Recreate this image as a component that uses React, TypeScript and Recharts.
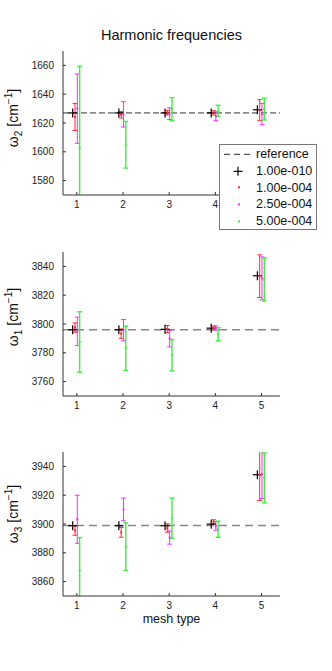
import React from "react";
import { ScatterChart, Scatter, XAxis, YAxis, ErrorBar, ReferenceLine } from "recharts";

// Harmonic frequencies per mesh type, one panel per mode (omega_2, omega_1, omega_3).
// Four tolerance runs per mesh; the tightest one (1.00e-010) has no spread.

const meshTypes = [1, 2, 3, 4, 5];
const seriesLabels = ["1.00e-010", "1.00e-004", "2.50e-004", "5.00e-004"];
const xTicks = [1, 2, 3, 4, 5];

// omega_2
const w2Reference = 1627;
const w2Ticks = [1580, 1600, 1620, 1640, 1660];
const w2Tight = [1627, 1627, 1627, 1627, 1629.2];
const w2Red = [1624.2, 1625.7, 1627.2, 1627, 1628.9];
const w2RedErr = [9.4, 2.2, 1.6, 1.5, 7.3];
const w2Magenta = [1630, 1626, 1626.5, 1624.7, 1626.2];
const w2MagentaErr = [24.1, 8.8, 4.1, 3.1, 7.4];
const w2Green = [1602.8, 1604.9, 1629.6, 1628.4, 1629.7];
const w2GreenErr = [56.5, 16.2, 8, 3.9, 7.6];

// omega_1
const w1Reference = 3796;
const w1Ticks = [3760, 3780, 3800, 3820, 3840];
const w1Tight = [3796, 3796, 3796.3, 3797.1, 3833.5];
const w1Red = [3797.5, 3793.3, 3796.5, 3797.3, 3833.2];
const w1RedErr = [3.2, 3.2, 2.5, 1.3, 14.8];
const w1Magenta = [3794.9, 3795.7, 3789.9, 3797.2, 3831.7];
const w1MagentaErr = [9.9, 7.4, 5.8, 1.5, 14.9];
const w1Green = [3787.5, 3783.2, 3778.3, 3792.9, 3830.9];
const w1GreenErr = [21, 15.4, 10.9, 4.6, 15];

// omega_3
const w3Reference = 3899;
const w3Ticks = [3860, 3880, 3900, 3920, 3940];
const w3Tight = [3898.8, 3898.8, 3898.8, 3899.9, 3934.2];
const w3Red = [3895.5, 3894.2, 3897.2, 3901.5, 3934.2];
const w3RedErr = [3.3, 3.4, 2.9, 1.4, 17.9];
const w3Magenta = [3903.3, 3910.1, 3890.6, 3898.7, 3934.7];
const w3MagentaErr = [16.7, 7.9, 4.6, 3, 17];
const w3Green = [3867.6, 3884.3, 3904, 3896.4, 3932];
const w3GreenErr = [23, 16.5, 14, 5.6, 17.3];

const FONT = "'Liberation Sans', Arial, Helvetica, sans-serif";
const AXIS = "#333";
const X_DOMAIN: [number, number] = [0.7, 5.4];
const PLOT_LEFT = 63;
const PLOT_W = 217;
const PLOT_H = 144;

// colour + small horizontal shift so the runs don't sit on top of each other
const seriesStyle = [
  { color: "#000000", shift: -0.09 },
  { color: "#ff2a2a", shift: -0.04 },
  { color: "#ff2aff", shift: 0.01 },
  { color: "#3ef03e", shift: 0.06 },
];

function rows(values: number[], errs: number[] | null, shift: number) {
  return meshTypes.map((m, i) => ({ x: m + shift, y: values[i], err: errs ? errs[i] : 0 }));
}

function PlusShape(props: any) {
  const { cx, cy } = props;
  if (cx == null || cy == null) return <g />;
  return (
    <g stroke="#000" strokeWidth={1.2}>
      <line x1={cx - 4.5} y1={cy} x2={cx + 4.5} y2={cy} />
      <line x1={cx} y1={cy - 4.5} x2={cx} y2={cy + 4.5} />
    </g>
  );
}

function dotShape(color: string) {
  return (props: any) => {
    const { cx, cy } = props;
    if (cx == null || cy == null) return <g />;
    return <rect x={cx - 1} y={cy - 1} width={2} height={2} fill={color} />;
  };
}

// x tick label; the legend sits over tick "5" of the top panel, so that one is skipped
function xTick(hidden: number[]) {
  return (props: any) => {
    const { x, y, payload } = props;
    if (hidden.includes(payload.value)) return <g />;
    return (
      <text x={x} y={y} dy="0.71em" textAnchor="middle" fontSize={10} fill="#222" fontFamily={FONT}>
        {payload.value}
      </text>
    );
  };
}

function YLabel({ cx, cy, sub }: { cx: number; cy: number; sub: string }) {
  return (
    <text
      x={cx}
      y={cy}
      transform={`rotate(-90, ${cx}, ${cy})`}
      textAnchor="middle"
      fontFamily={FONT}
      fontSize={14}
      fill="#111"
    >
      ω
      <tspan dy={3.5} fontSize={10}>{sub}</tspan>
      <tspan dy={-3.5}> [cm</tspan>
      <tspan dy={-6} fontSize={10}>−1</tspan>
      <tspan dy={6}>]</tspan>
    </text>
  );
}

interface PanelProps {
  id: string;
  top: number;
  height: number;
  marginTop: number;
  xAxisHeight: number;
  domain: [number, number];
  yTicks: number[];
  reference: number;
  refStroke: string;
  refWidth: number;
  refDash: string;
  tight: number[];
  red: number[];
  redErr: number[];
  magenta: number[];
  magentaErr: number[];
  green: number[];
  greenErr: number[];
  sub: string;
  labelShift: number;
  hiddenXLabels?: number[];
  xLabel?: string;
}

function Panel(p: PanelProps) {
  const colored = [
    { vals: p.red, errs: p.redErr, st: seriesStyle[1], width: 1 },
    { vals: p.magenta, errs: p.magentaErr, st: seriesStyle[2], width: 1 },
    { vals: p.green, errs: p.greenErr, st: seriesStyle[3], width: 1.4 },
  ];
  const clipId = `clip-${p.id}`;
  return (
    <div className={`panel-${p.id}`} style={{ position: "absolute", left: 0, top: p.top }}>
      {/* error bars that run past the y-range get cut at the axes box */}
      <svg width={0} height={0} style={{ position: "absolute" }}>
        <defs>
          <clipPath id={clipId} clipPathUnits="userSpaceOnUse">
            <rect x={PLOT_LEFT} y={p.marginTop} width={PLOT_W} height={PLOT_H} />
          </clipPath>
        </defs>
      </svg>
      <style>{`.panel-${p.id} .recharts-errorBars, .panel-${p.id} .recharts-errorBar, .panel-${p.id} .recharts-scatter { clip-path: url(#${clipId}); }`}</style>
      <ScatterChart
        width={332}
        height={p.height}
        margin={{ top: p.marginTop, right: 52, bottom: 0, left: 0 }}
      >
        <XAxis
          type="number"
          dataKey="x"
          domain={X_DOMAIN}
          ticks={xTicks}
          allowDataOverflow
          height={p.xAxisHeight}
          tickSize={-3}
          tickMargin={9}
          tick={xTick(p.hiddenXLabels ?? [])}
          axisLine={{ stroke: AXIS }}
          tickLine={{ stroke: AXIS }}
          label={
            p.xLabel
              ? { value: p.xLabel, position: "insideBottom", offset: 13, fontSize: 12.5, fill: "#111", fontFamily: FONT }
              : undefined
          }
        />
        <XAxis
          xAxisId="top"
          orientation="top"
          type="number"
          domain={X_DOMAIN}
          ticks={xTicks}
          allowDataOverflow
          height={0}
          tickSize={-3}
          tick={false}
          axisLine={{ stroke: AXIS }}
          tickLine={{ stroke: AXIS }}
        />
        <YAxis
          type="number"
          dataKey="y"
          domain={p.domain}
          ticks={p.yTicks}
          allowDataOverflow
          width={PLOT_LEFT}
          tickSize={-3}
          tickMargin={12}
          tick={{ fontSize: 10, fill: "#222", fontFamily: FONT }}
          axisLine={{ stroke: AXIS }}
          tickLine={{ stroke: AXIS }}
          label={<YLabel cx={18} cy={p.marginTop + PLOT_H / 2 + p.labelShift} sub={p.sub} />}
        />
        <YAxis
          yAxisId="right"
          orientation="right"
          type="number"
          domain={p.domain}
          ticks={p.yTicks}
          allowDataOverflow
          width={0}
          tickSize={-3}
          tick={false}
          axisLine={{ stroke: AXIS }}
          tickLine={{ stroke: AXIS }}
        />
        <ReferenceLine
          y={p.reference}
          stroke={p.refStroke}
          strokeWidth={p.refWidth}
          strokeDasharray={p.refDash}
        />
        <Scatter
          name={seriesLabels[0]}
          data={rows(p.tight, null, seriesStyle[0].shift)}
          shape={PlusShape}
          isAnimationActive={false}
        />
        {colored.map((s, k) => (
          <Scatter
            key={k}
            name={seriesLabels[k + 1]}
            data={rows(s.vals, s.errs, s.st.shift)}
            shape={dotShape(s.st.color)}
            isAnimationActive={false}
          >
            <ErrorBar
              dataKey="err"
              direction="y"
              width={2.5}
              stroke={s.st.color}
              strokeWidth={s.width}
              clipPath={`url(#${clipId})`}
              isAnimationActive={false}
            />
          </Scatter>
        ))}
      </ScatterChart>
    </div>
  );
}

function LegendBox() {
  const rowH = 16.7;
  const swatch = (k: number) => {
    if (k === 0) {
      return <line x1={0} y1={rowH / 2} x2={28} y2={rowH / 2} stroke="#555" strokeWidth={1.2} strokeDasharray="6 4" />;
    }
    if (k === 1) {
      return (
        <g stroke="#000" strokeWidth={1.2}>
          <line x1={9.5} y1={rowH / 2} x2={18.5} y2={rowH / 2} />
          <line x1={14} y1={rowH / 2 - 4.5} x2={14} y2={rowH / 2 + 4.5} />
        </g>
      );
    }
    return <rect x={14} y={rowH / 2 - 1} width={2} height={2} fill={seriesStyle[k - 1].color} />;
  };
  const labels = ["reference", ...seriesLabels];
  return (
    <div
      style={{
        position: "absolute",
        left: 219,
        top: 144,
        width: 98,
        height: 86,
        border: "1px solid #777",
        background: "#fff",
        fontFamily: FONT,
        fontSize: 12.5,
        color: "#111",
        paddingTop: 1,
        boxSizing: "border-box",
      }}
    >
      {labels.map((lab, k) => (
        <div key={lab} style={{ display: "flex", alignItems: "center", height: rowH }}>
          <svg width={32} height={rowH} style={{ marginLeft: 4, flex: "none" }}>
            {swatch(k)}
          </svg>
          <span style={{ lineHeight: "14px", whiteSpace: "nowrap" }}>{lab}</span>
        </div>
      ))}
    </div>
  );
}

export default function App() {
  return (
    <div style={{ position: "absolute", left: 0, top: 0, width: 332, height: 671, background: "#fff" }}>
      <div
        style={{
          position: "absolute",
          left: PLOT_LEFT,
          top: 26,
          width: PLOT_W,
          height: 18,
          lineHeight: "18px",
          textAlign: "center",
          fontFamily: FONT,
          fontSize: 14.5,
          color: "#111",
        }}
      >
        Harmonic frequencies
      </div>
      <Panel
        id="w2"
        top={0}
        height={215}
        marginTop={51}
        xAxisHeight={20}
        domain={[1570, 1670]}
        yTicks={w2Ticks}
        reference={w2Reference}
        refStroke="#333"
        refWidth={1}
        refDash="6 3"
        tight={w2Tight}
        red={w2Red}
        redErr={w2RedErr}
        magenta={w2Magenta}
        magentaErr={w2MagentaErr}
        green={w2Green}
        greenErr={w2GreenErr}
        sub="2"
        labelShift={-5}
        hiddenXLabels={[5]}
      />
      <Panel
        id="w1"
        top={230}
        height={186}
        marginTop={22}
        xAxisHeight={20}
        domain={[3750, 3850]}
        yTicks={w1Ticks}
        reference={w1Reference}
        refStroke="#888"
        refWidth={1.6}
        refDash="8 5"
        tight={w1Tight}
        red={w1Red}
        redErr={w1RedErr}
        magenta={w1Magenta}
        magentaErr={w1MagentaErr}
        green={w1Green}
        greenErr={w1GreenErr}
        sub="1"
        labelShift={-7}
      />
      <Panel
        id="w3"
        top={430}
        height={206}
        marginTop={22}
        xAxisHeight={40}
        domain={[3850, 3950]}
        yTicks={w3Ticks}
        reference={w3Reference}
        refStroke="#888"
        refWidth={1.6}
        refDash="8 5"
        tight={w3Tight}
        red={w3Red}
        redErr={w3RedErr}
        magenta={w3Magenta}
        magentaErr={w3MagentaErr}
        green={w3Green}
        greenErr={w3GreenErr}
        sub="3"
        labelShift={-10}
        xLabel="mesh type"
      />
      <LegendBox />
    </div>
  );
}
